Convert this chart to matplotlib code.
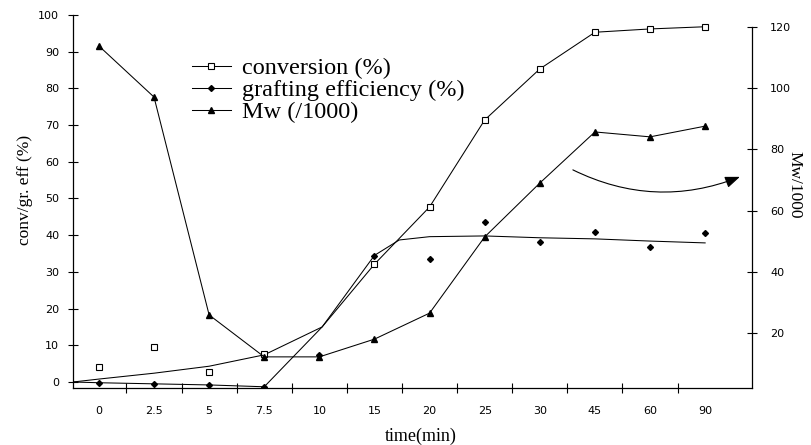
import matplotlib
matplotlib.use("Agg")
import matplotlib.pyplot as plt
from matplotlib.lines import Line2D
import numpy as np

# time points are plotted as evenly spaced categories
times = ['0', '2.5', '5', '7.5', '10', '15', '20', '25', '30', '45', '60', '90']
pos = np.arange(len(times))

# measured points, left axis (%) -- nan = no point
conversion = [4.1, 9.6, 2.8, 7.6, np.nan, 32.1, 47.7, 71.4, 85.3, 95.3, 96.2, 96.8]
grafting = [-0.2, -0.5, -0.8, -1.3, 7.3, 34.3, 33.6, 43.6, 38.1, 40.9, 36.8, 40.6]
# Mw/1000, right axis
mw = [113.8, 97.1, 25.9, 12.2, 12.2, 18.0, 26.5, 51.4, 69.0, 85.7, 84.1, 87.6]

# hand drawn trend curves (x in category units, first point = axis corner)
conv_curve_x = [-0.47, 0, 1, 2, 3, 4.05, 5, 6, 7, 8, 9, 10, 11]
conv_curve_y = [0, 0.8, 2.4, 4.3, 7.4, 15.0, 32.1, 47.7, 71.4, 85.3, 95.3, 96.2, 96.8]
graft_curve_x = [-0.47, 0, 1, 2, 3, 4.05, 5, 5.45, 6, 7, 8, 9, 10, 11]
graft_curve_y = [0, -0.2, -0.5, -0.8, -1.3, 15.0, 34.5, 38.7, 39.6, 39.8, 39.3, 39.0, 38.4, 37.9]

serif = 'Liberation Serif'
lw = 0.75

fig = plt.figure(figsize=(8.12, 4.45), dpi=100)
ax = fig.add_axes([0.0899, 0.1292, 0.8362, 0.8371])
ax.set_xlim(-0.47, 11.85)
ax.set_ylim(-1.5, 100)

# conversion
ax.plot(conv_curve_x, conv_curve_y, color='black', lw=lw)
ax.plot(pos, conversion, ls='none', marker='s', ms=5, mfc='white',
        mec='black', mew=0.8)
# grafting efficiency
ax.plot(graft_curve_x, graft_curve_y, color='black', lw=lw)
ax.plot(pos, grafting, ls='none', marker='D', ms=3, color='black')

ax2 = ax.twinx()
ax2.set_ylim(2.19, 123.92)
ax2.plot(pos, mw, color='black', lw=lw, marker='^', ms=4.5)

# curved arrow pointing Mw to the right axis
ax.annotate('', xy=(11.63, 55.9), xytext=(8.6, 57.8),
            arrowprops=dict(arrowstyle='-|>,head_length=0.9,head_width=0.35',
                            connectionstyle='arc3,rad=0.22', color='black',
                            lw=0.8, shrinkA=0, shrinkB=0))

# spines
for s in ['top', 'right']:
    ax.spines[s].set_visible(False)
for s in ['top', 'left', 'bottom']:
    ax2.spines[s].set_visible(False)
ax2.spines['right'].set_bounds(2.19, 120)
for sp in [ax.spines['left'], ax.spines['bottom'], ax2.spines['right']]:
    sp.set_linewidth(0.9)

# ticks
ax.set_yticks(range(0, 101, 10))
ax.tick_params(axis='y', direction='inout', length=7, width=0.8,
               labelsize=8, pad=6.5)
ax.set_xticks(pos)
ax.set_xticklabels(times)
ax.set_xticks(pos[:-1] + 0.5, minor=True)
ax.tick_params(axis='x', which='major', length=0, labelsize=8, pad=13)
ax.tick_params(axis='x', which='minor', direction='inout', length=7, width=0.8)
ax2.set_yticks(range(20, 121, 20))
ax2.tick_params(axis='y', direction='inout', length=7, width=0.8,
                labelsize=8, pad=9.5)

# axis titles
fig.text(25 / 812, 1 - 190 / 445, 'conv/gr. eff (%)', rotation=90,
         ha='center', va='center', family=serif, fontsize=12.5)
fig.text(421 / 812, 1 - 436 / 445, 'time(min)', ha='center', va='center',
         family=serif, fontsize=13)
fig.text(794 / 812, 1 - 185 / 445, 'Mw/1000', rotation=-90, ha='center',
         va='center', family=serif, fontsize=12.5)

# legend
handles = [
    Line2D([], [], color='black', lw=lw, marker='s', ms=5, mfc='white', mec='black', mew=0.8),
    Line2D([], [], color='black', lw=lw, marker='D', ms=3),
    Line2D([], [], color='black', lw=lw, marker='^', ms=4.5),
]
labels = ['conversion (%)', 'grafting efficiency (%)', 'Mw (/1000)']
fig.legend(handles, labels, loc='upper left', bbox_to_anchor=(192 / 812, 1 - 57 / 445),
           frameon=False, prop={'family': serif, 'size': 17.5}, handlelength=1.6,
           handletextpad=0.45, labelspacing=0.0, borderpad=0, borderaxespad=0)

fig.savefig('out.png', dpi=100)
